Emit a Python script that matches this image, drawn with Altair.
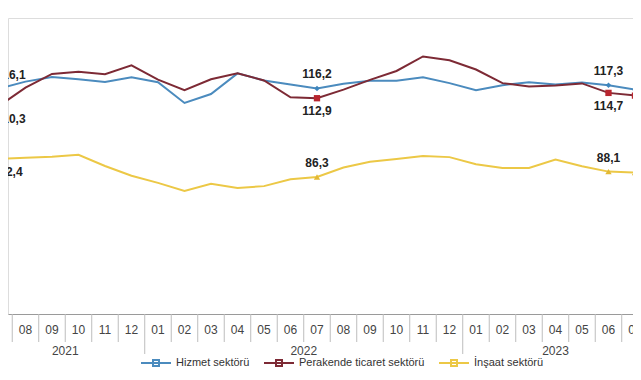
import altair as alt
import pandas as pd

# ---------------- data ----------------
month_labels = ["07", "08", "09", "10", "11", "12",
                "01", "02", "03", "04", "05", "06", "07", "08", "09", "10", "11", "12",
                "01", "02", "03", "04", "05", "06", "07"]
year_labels = ["2021"] * 6 + ["2022"] * 12 + ["2023"] * 7
series_names = ["Hizmet sektörü", "Perakende ticaret sektörü", "İnşaat sektörü"]

services = [116.1, 118.5, 120.1, 119.3, 118.4, 120.0, 118.3, 111.3, 114.3, 121.3, 118.9, 117.5,
            116.2, 117.8, 118.8, 118.8, 120.0, 118.0, 115.6, 117.3, 118.3, 117.5, 118.2, 117.3, 115.8]
retail = [110.3, 116.5, 121.1, 121.8, 121.0, 124.0, 119.2, 115.6, 119.3, 121.3, 118.9, 113.2,
          112.9, 115.8, 119.1, 122.1, 127.0, 125.7, 122.6, 118.0, 116.9, 117.2, 117.9, 114.7, 113.8]
construction = [92.4, 92.8, 93.1, 93.8, 90.0, 86.7, 84.3, 81.6, 84.0, 82.6, 83.2, 85.5,
                86.3, 89.5, 91.4, 92.4, 93.4, 93.0, 90.6, 89.3, 89.3, 92.2, 89.9, 88.1, 87.8]

labelled_idx = [0, 12, 23, 24]

line_colors = ["#4b8bbe", "#7d2a35", "#ecc846"]
marker_colors = ["#3f86bd", "#b8262f", "#e3b934"]
marker_shapes = ["diamond", "square", "triangle-up"]
marker_sizes = [30, 40, 40]

rows = []
for name, vals in zip(series_names, [services, retail, construction]):
    for i, v in enumerate(vals):
        rows.append({"idx": i, "series": name, "value": v,
                     "label": f"{v:.1f}".replace(".", ",")})
df = pd.DataFrame(rows)
axis_df = pd.DataFrame({"idx": list(range(len(month_labels))),
                        "month": month_labels, "year": year_labels})

# ---------------- layout ----------------
W, H = 625, 296
FONT = "Liberation Sans Narrow, Arial Narrow, Liberation Sans, Arial, sans-serif"
xscale = alt.Scale(domain=[0.34, 23.925], nice=False, zero=False)
xaxis = alt.Axis(title=None, labels=False, ticks=False, grid=False,
                 domain=True, domainColor="#9a9a9a", domainWidth=1)
yscale = alt.Scale(domain=[40, 140], nice=False, zero=False)


def X(field):
    return alt.X(f"{field}:Q", scale=xscale, axis=xaxis)


Y = alt.Y("value:Q", scale=yscale, axis=None)

base = alt.Chart(df)

lines = base.mark_line(strokeWidth=2, clip=False).encode(
    x=X("idx"), y=Y,
    color=alt.Color(
        "series:N", sort=series_names,
        scale=alt.Scale(domain=series_names, range=line_colors),
        legend=alt.Legend(title=None, orient="none", legendX=132, legendY=329,
                          direction="horizontal",
                          symbolType="M-1,0H1M-0.2,-0.2H0.2V0.2H-0.2Z",
                          symbolSize=900, symbolStrokeWidth=2,
                          labelFont=FONT, labelFontSize=11, labelColor="#333333",
                          columnPadding=10, labelOffset=4),
    ),
)

sel = alt.FieldOneOfPredicate(field="idx", oneOf=labelled_idx)

marker_layers = []
for name, col, shp, sz in zip(series_names, marker_colors, marker_shapes, marker_sizes):
    marker_layers.append(
        base.transform_filter(sel)
        .transform_filter(alt.FieldEqualPredicate(field="series", equal=name))
        .mark_point(filled=True, size=sz, opacity=1, shape=shp, color=col)
        .encode(x=X("idx"), y=Y)
    )

lab = base.transform_filter(sel).transform_calculate(
    lx="datum.idx == 0 ? datum.idx + 0.45 : (datum.idx == 24 ? datum.idx + 0.6 : datum.idx)")
above_expr = (f"datum.series == '{series_names[0]}' || "
              f"(datum.series == '{series_names[2]}' && datum.idx > 0)")
labels_above = lab.transform_filter(above_expr).mark_text(
    baseline="bottom", dy=-7, fontSize=12, fontWeight="bold", font=FONT, color="#222222"
).encode(x=X("lx"), y=Y, text="label:N")
labels_below = lab.transform_filter(f"!({above_expr})").mark_text(
    baseline="top", dy=8, fontSize=12, fontWeight="bold", font=FONT, color="#222222"
).encode(x=X("lx"), y=Y, text="label:N")

axis_base = alt.Chart(axis_df)
month_text = axis_base.mark_text(fontSize=12, font=FONT, color="#444444", baseline="middle").encode(
    x=X("idx"), y=alt.value(H + 16), text="month:N")
seps = axis_base.transform_filter("datum.idx > 0").transform_calculate(sx="datum.idx - 0.5")
seps_short = seps.transform_filter("datum.month != '01'").mark_rule(
    color="#bdbdbd", strokeWidth=1).encode(x=X("sx"), y=alt.value(H), y2=alt.value(H + 28))
seps_long = seps.transform_filter("datum.month == '01'").mark_rule(
    color="#bdbdbd", strokeWidth=1).encode(x=X("sx"), y=alt.value(H), y2=alt.value(H + 40))
year_text = axis_base.transform_aggregate(center="mean(idx)", groupby=["year"]).mark_text(
    fontSize=12, font=FONT, color="#444444", baseline="middle").encode(
    x=X("center"), y=alt.value(H + 37), text="year:N")

chart = alt.layer(
    seps_short, seps_long, month_text, year_text,
    lines, *marker_layers, labels_above, labels_below,
).properties(
    width=W, height=H,
    autosize=alt.AutoSizeParams(type="none"),
    padding={"left": 0, "right": 0, "top": 10, "bottom": 58},
).configure_view(
    stroke=None, fill=None
).configure_axis(
    domain=False, ticks=False, labels=False, grid=False
).configure(background="white")

chart.save("out.html", embed_options={"renderer": "svg", "actions": False})
